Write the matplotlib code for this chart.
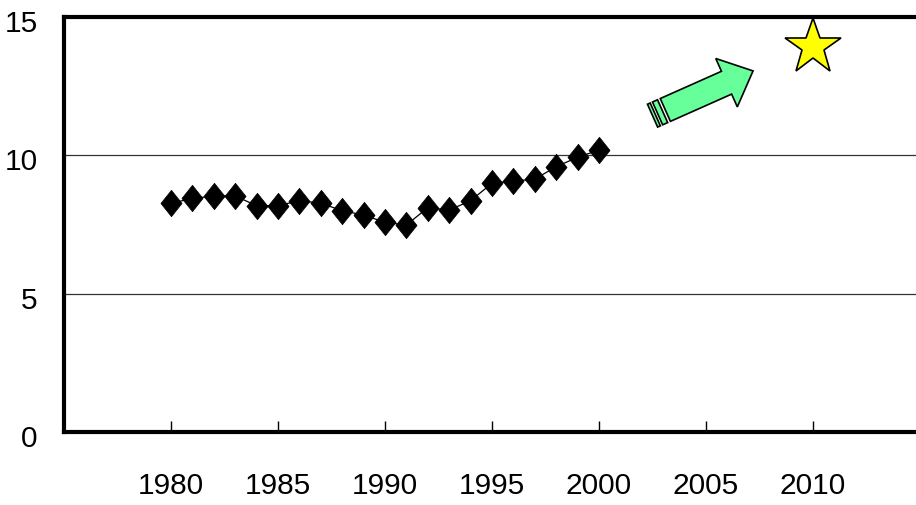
import numpy as np
import matplotlib
matplotlib.use("Agg")
import matplotlib.pyplot as plt
from matplotlib.path import Path
from matplotlib.patches import Polygon
from matplotlib.transforms import Affine2D, ScaledTranslation
from matplotlib import font_manager

names = {f.name for f in font_manager.fontManager.ttflist}
fam = [f for f in ["Liberation Sans Narrow", "Liberation Sans", "DejaVu Sans"] if f in names]
plt.rcParams['font.family'] = fam

years = list(range(1980, 2001))
values = [8.27, 8.44, 8.53, 8.53, 8.18, 8.18, 8.36, 8.27, 8.00, 7.84, 7.58,
          7.48, 8.11, 8.02, 8.36, 8.99, 9.07, 9.14, 9.59, 9.93, 10.19]
target_year = [2010]
target_value = [13.92]
xticks = [1980, 1985, 1990, 1995, 2000, 2005, 2010]
yticks = [0, 5, 10, 15]
arrow_tail = (2003.1, 11.64)   # data position of the shaft tail centre

fig = plt.figure(figsize=(9.16, 5.05), dpi=100)
ax = fig.add_axes([64/916, 73/505, 856/916, 415/505])
ax.set_xlim(1975, 2015)
ax.set_ylim(0, 15)

ax.set_yticks(yticks)
ax.set_xticks(xticks)
ax.yaxis.grid(True, color='#333333', linewidth=0.9)
ax.set_axisbelow(True)
for s in ['left', 'top', 'bottom']:
    ax.spines[s].set_linewidth(3)
    ax.spines[s].set_color('black')
ax.spines['right'].set_visible(False)
ax.tick_params(axis='y', length=0, pad=19, labelsize=21.5)
ax.tick_params(axis='x', direction='in', length=8, width=1, pad=29, labelsize=21.5)
shift = ScaledTranslation(0, -4/100, fig.dpi_scale_trans)
for lbl in ax.get_yticklabels():
    lbl.set_transform(lbl.get_transform() + shift)

diamond = Path([(0, 1), (0.8, 0), (0, -1), (-0.8, 0), (0, 1)],
               [Path.MOVETO, Path.LINETO, Path.LINETO, Path.LINETO, Path.CLOSEPOLY])
ax.plot(years, values, color='black', linewidth=0.9, marker=diamond,
        markersize=19, markerfacecolor='black', markeredgecolor='black',
        markeredgewidth=0.5, zorder=3)

ax.plot(target_year, target_value, linestyle='none', marker='*', markersize=42,
        markerfacecolor='#FFFF00', markeredgecolor='black', markeredgewidth=1.2,
        zorder=4, clip_on=False)

# striped block arrow (pixel geometry in local frame: u along, v across)
L_head_base, L_tip, hw_shaft, hw_head = 67.0, 96.0, 12.5, 26.5
shaft = [(0, -hw_shaft), (L_head_base, -hw_shaft), (L_head_base, -hw_head),
         (L_tip, 0), (L_head_base, hw_head), (L_head_base, hw_shaft), (0, hw_shaft)]
stripe2 = [(-8.5, -hw_shaft), (-3, -hw_shaft), (-3, hw_shaft), (-8.5, hw_shaft)]
stripe1 = [(-14, -hw_shaft), (-11, -hw_shaft), (-11, hw_shaft), (-14, hw_shaft)]
px, py = ax.transData.transform(arrow_tail)
tr = Affine2D().rotate_deg(24).translate(px, py)
for poly in (shaft, stripe2, stripe1):
    ax.add_patch(Polygon(poly, closed=True, transform=tr, facecolor='#66FF99',
                         edgecolor='black', linewidth=1.2, zorder=4, clip_on=False))

fig.savefig('out.png', dpi=100)
